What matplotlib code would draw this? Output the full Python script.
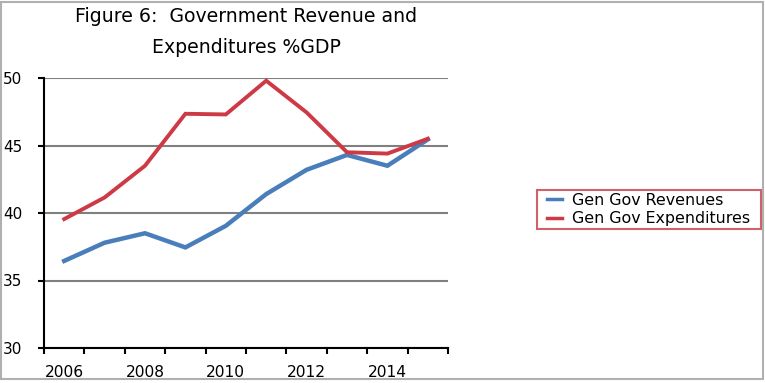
import matplotlib
matplotlib.use("Agg")
import matplotlib.pyplot as plt
from matplotlib.patches import Rectangle

years = [2006, 2007, 2008, 2009, 2010, 2011, 2012, 2013, 2014, 2015]
revenues = [36.45, 37.8, 38.5, 37.45, 39.05, 41.4, 43.2, 44.3, 43.5, 45.45]
expenditures = [39.55, 41.15, 43.5, 47.35, 47.3, 49.8, 47.45, 44.5, 44.4, 45.5]
tick_years = [2006, 2008, 2010, 2012, 2014]
y_ticks = [30, 35, 40, 45, 50]

plt.rcParams['font.family'] = ['DejaVu Sans']

fig = plt.figure(figsize=(7.65, 3.83), dpi=100)
W, H = 765, 383
ax = fig.add_axes([44 / W, 1 - 348 / H, (448 - 44) / W, (348 - 78) / H])

x = list(range(len(years)))
ax.plot(x, revenues, color='#4a7ebb', lw=3.2, label='Gen Gov Revenues', solid_joinstyle='miter')
ax.plot(x, expenditures, color='#cd3a45', lw=2.8, label='Gen Gov Expenditures', solid_joinstyle='miter')

ax.set_xlim(-0.5, len(years) - 0.5)
ax.set_ylim(30, 50)

# category boundaries as major ticks, labels at centers
ax.set_xticks([i - 0.5 for i in range(len(years) + 1)])
ax.set_xticklabels([])
ax.set_xticks([years.index(y) for y in tick_years], minor=True)
ax.set_xticklabels([str(y) for y in tick_years], minor=True, fontsize=11.2)
ax.tick_params(axis='x', which='major', direction='out', length=4, width=1.5, color='black')
ax.tick_params(axis='x', which='minor', length=0, pad=12)

ax.set_yticks(y_ticks)
ax.set_yticklabels([str(v) for v in y_ticks], fontsize=11, ha='left')
ax.tick_params(axis='y', direction='out', length=4, width=1.5, pad=25.5)

ax.yaxis.grid(True, color='#808080', lw=1.5)
ax.set_axisbelow(True)
for s in ['top', 'right']:
    ax.spines[s].set_visible(False)
for s in ['left', 'bottom']:
    ax.spines[s].set_linewidth(1.5)
    ax.spines[s].set_color('black')

fig.text(246 / W, 1 - 32 / H, 'Figure 6:  Government Revenue and\nExpenditures %GDP',
         ha='center', va='center', fontsize=13.6, linespacing=1.75)

leg = fig.legend(loc='center left', bbox_to_anchor=(544 / W, 1 - 209.5 / H),
                 frameon=False, fontsize=11.4, handlelength=0.95,
                 handletextpad=0.65, borderpad=0.2, labelspacing=0.22, borderaxespad=0)
for line in leg.get_lines():
    line.set_linewidth(2.5)

# legend box
fig.patches.append(Rectangle((537 / W, 1 - 229 / H), (761 - 537) / W, (229 - 190) / H,
                             transform=fig.transFigure, fill=False,
                             edgecolor='#d0606a', lw=1.5))

# figure border
fig.patches.append(Rectangle((1 / W, 4 / H), 1 - 3 / W, 1 - 6 / H, transform=fig.transFigure,
                             fill=False, edgecolor='#b0b0b0', lw=1.5))

fig.savefig('out.png', dpi=100)
